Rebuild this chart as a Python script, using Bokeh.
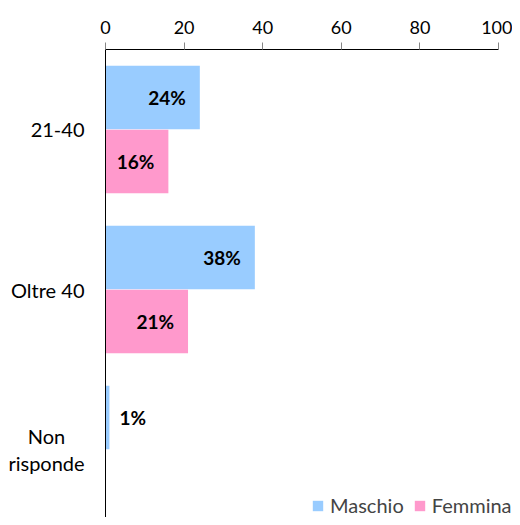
from bokeh.plotting import figure
from bokeh.models import ColumnDataSource, Range1d, FixedTicker, Legend, LegendItem
from bokeh.core.properties import value
from bokeh.embed import file_html
from bokeh.resources import INLINE

categories = ["21-40", "Oltre 40", "Non risponde"]
category_labels = ["21-40", "Oltre 40", "Non\nrisponde"]
maschio = [24, 38, 1]
femmina = [16, 21, 0]
x_ticks = [0, 20, 40, 60, 80, 100]
series_names = ["Maschio", "Femmina"]
series_colors = ["#99CCFF", "#FF99CC"]

FONT = "Lato"
W, H = 512, 517
LEFT_PX, RIGHT_PX = 105, 498      # pixel positions of x = 0 and x = 100
TOP_PX, BAND_PX = 49, 160
ppu = (RIGHT_PX - LEFT_PX) / 100.0

centers = [i + 0.5 for i in range(len(categories))]

p = figure(width=W, height=H, output_backend="svg", toolbar_location=None,
           x_range=Range1d(-LEFT_PX / ppu, (W - LEFT_PX) / ppu),
           y_range=Range1d((H - TOP_PX) / BAND_PX, 0),
           x_axis_location="above", min_border_left=0, min_border_top=TOP_PX,
           min_border_right=0, min_border_bottom=0)
p.outline_line_color = None
p.xgrid.visible = False
p.ygrid.visible = False
p.background_fill_color = "white"
p.border_fill_color = "white"

renderers = []
for vals, off, color in [(maschio, -0.2, series_colors[0]), (femmina, 0.2, series_colors[1])]:
    src = ColumnDataSource(dict(y=[c + off for c in centers], right=vals))
    r = p.hbar(y="y", right="right", left=0, height=0.397, source=src,
               fill_color=color, line_color=None)
    renderers.append(r)

    ys, xs, txt, aligns, offs = [], [], [], [], []
    for c, v in zip(centers, vals):
        if v <= 0:
            continue
        ys.append(c + off)
        xs.append(v)
        txt.append(f"{v}%")
        if v >= 5:
            aligns.append("right")
            offs.append(-14)
        else:
            aligns.append("left")
            offs.append(10)
    lsrc = ColumnDataSource(dict(x=xs, y=ys, text=txt, align=aligns, xo=offs))
    p.text(x="x", y="y", text="text", source=lsrc, text_align="align", x_offset="xo",
           text_baseline="middle", text_font=value(FONT), text_font_style="bold",
           text_font_size="19px", text_color="black")

# top x axis, limited to 0..100
xa = p.xaxis[0]
xa.bounds = (0, 100)
xa.ticker = FixedTicker(ticks=x_ticks)
xa.minor_tick_line_color = None
xa.major_tick_in = 0
xa.major_tick_out = 7
xa.major_tick_line_color = "#868686"
xa.axis_line_color = "black"
xa.major_label_text_font = FONT
xa.major_label_text_font_size = "18px"
xa.major_label_text_color = "black"
xa.major_label_standoff = 9

# left y axis drawn at x = 0; its category names are drawn as centred text
ya = p.yaxis[0]
ya.fixed_location = 0
ya.ticker = FixedTicker(ticks=centers)
ya.major_label_overrides = {c: "" for c in centers}
ya.major_label_text_font_size = "0px"
ya.major_label_standoff = 0
ya.minor_tick_line_color = None
ya.major_tick_in = 0
ya.major_tick_out = 0
ya.axis_line_color = "black"

c_align = ["center" if "\n" in t else "right" for t in category_labels]
c_off = [-59 if "\n" in t else -21 for t in category_labels]
cat_src = ColumnDataSource(dict(x=[0] * len(centers), y=centers, text=category_labels,
                                align=c_align, xo=c_off))
p.text(x="x", y="y", text="text", source=cat_src, text_align="align", x_offset="xo",
       text_baseline="middle", text_font=value(FONT), text_font_size="20px",
       text_line_height=1.1, text_color="black")

legend = Legend(items=[LegendItem(label=n, renderers=[r]) for n, r in zip(series_names, renderers)],
                orientation="horizontal", location=(311, 0), padding=0, margin=0,
                spacing=9, label_standoff=6, glyph_width=13, glyph_height=13,
                label_text_font=FONT, label_text_font_size="20px",
                border_line_color=None, background_fill_alpha=0)
p.add_layout(legend, "center")

open("out.html", "w").write(file_html(p, INLINE))
